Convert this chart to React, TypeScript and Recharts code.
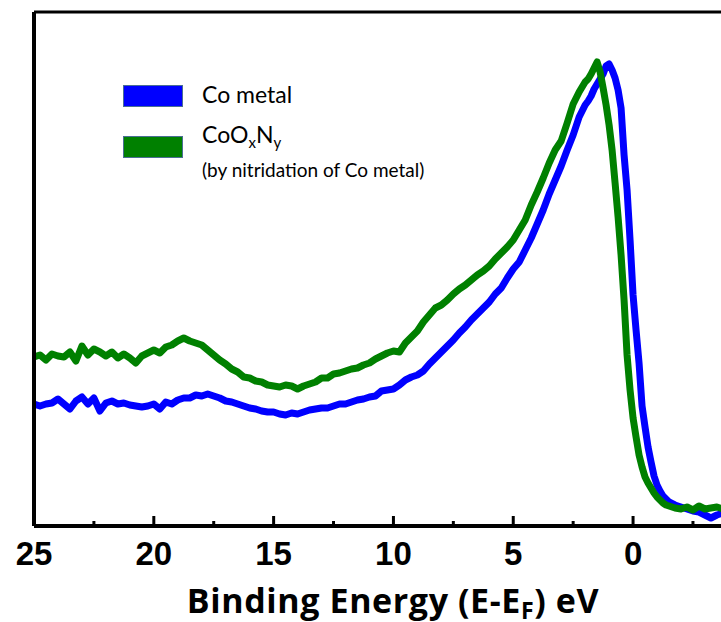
import { Line, LineChart, ReferenceLine, XAxis, YAxis } from "recharts";

// binding energy grid (eV)
const energy = [
  25, 24.75, 24.5, 24.25, 24, 23.75, 23.5, 23.25, 23, 22.75, 22.5, 22.25, 22, 21.75, 21.5, 21.25,
  21, 20.75, 20.5, 20.25, 20, 19.75, 19.5, 19.25, 19, 18.75, 18.5, 18.25, 18, 17.75, 17.5, 17.25,
  17, 16.75, 16.5, 16.25, 16, 15.75, 15.5, 15.25, 15, 14.75, 14.5, 14.25, 14, 13.75, 13.5, 13.25,
  13, 12.75, 12.5, 12.25, 12, 11.75, 11.5, 11.25, 11, 10.75, 10.5, 10.25, 10, 9.75, 9.5, 9.25,
  9, 8.75, 8.5, 8.25, 8, 7.75, 7.5, 7.25, 7, 6.75, 6.5, 6.25, 6, 5.75, 5.5, 5.25,
  5, 4.75, 4.5, 4.25, 4, 3.75, 3.5, 3.25, 3, 2.75, 2.5, 2.25,
  2, 1.875, 1.75, 1.625, 1.5, 1.375, 1.25, 1.125, 1, 0.875, 0.75, 0.625, 0.5, 0.375, 0.25, 0.125,
  0, -0.125, -0.25, -0.375, -0.5, -0.625, -0.75, -0.875, -1, -1.125, -1.25, -1.375, -1.5,
  -1.75, -2, -2.25, -2.5, -2.75, -3, -3.25, -3.5, -3.75,
];

// Co metal intensity (a.u.)
const coMetal = [
  122, 120, 122, 123, 127, 122, 117, 125, 129, 122, 128, 115, 123, 125, 122, 123,
  121, 120, 119, 120, 122, 117, 124, 122, 126, 128, 128, 131, 130, 132, 130, 128,
  125, 124, 122, 120, 118, 117, 115, 114, 114, 112, 111, 113, 112, 114, 116, 117,
  118, 118, 120, 122, 122, 124, 126, 127, 129, 130, 135, 136, 137, 141, 146, 149,
  151, 155, 162, 168, 174, 180, 186, 193, 199, 206, 212, 218, 224, 232, 238, 248,
  257, 264, 276, 288, 302, 316, 332, 346, 360, 376, 391, 409,
  421, 425, 430, 437, 442, 447, 452, 460, 462, 456, 448, 436, 418, 371, 336, 286,
  231, 196, 163, 120, 99, 79, 64, 50, 41, 35, 30, 27, 24,
  21, 19, 17, 15, 14, 11, 8, 11, 13,
];

// CoOxNy intensity (a.u.)
const coOxNy = [
  169, 171, 166, 172, 170, 169, 174, 165, 180, 171, 177, 174, 170, 174, 168, 172,
  168, 163, 170, 173, 176, 173, 179, 181, 185, 188, 185, 183, 181, 176, 171, 166,
  162, 157, 154, 149, 148, 145, 144, 141, 140, 139, 141, 140, 137, 140, 142, 144,
  148, 148, 152, 153, 155, 157, 158, 161, 163, 167, 170, 173, 175, 174, 183, 189,
  195, 204, 211, 218, 221, 226, 232, 237, 241, 246, 251, 255, 260, 267, 273, 279,
  286, 296, 306, 321, 334, 348, 363, 376, 385, 403, 422, 434,
  444, 447, 452, 458, 464, 454, 438, 421, 401, 376, 343, 309, 271, 226, 171, 136,
  108, 89, 71, 59, 49, 43, 38, 33, 29, 26, 23, 21, 20,
  18, 17, 19, 16, 20, 17, 18, 19, 17,
];

const energyTicks = [25, 22.5, 20, 17.5, 15, 12.5, 10, 7.5, 5, 2.5, 0, -2.5];

const rows = energy.map((e, i) => ({ e, co: coMetal[i], coon: coOxNy[i] }));

const BLUE = "#0000ff";
const GREEN = "#008000";
const SANS = "Lato, 'Open Sans', sans-serif";

function EnergyTick(props: any) {
  const { x, y, payload } = props;
  const v = payload.value as number;
  const major = Math.abs(v % 5) < 1e-6;
  return (
    <g>
      <line x1={x} x2={x} y1={y} y2={y - (major ? 10 : 5)} stroke="#000" strokeWidth={3} />
      {major && (
        <text
          x={x}
          y={y + 39}
          textAnchor="middle"
          fontFamily="'Liberation Sans', Arial, sans-serif"
          fontWeight="bold"
          fontSize={33}
          fill="#000"
        >
          {v}
        </text>
      )}
    </g>
  );
}

function AxisTitle() {
  return (
    <text
      x={393}
      y={613}
      textAnchor="middle"
      fontFamily="'Open Sans', Lato, sans-serif"
      fontWeight="bold"
      fontSize={34}
      letterSpacing={0.6}
      fill="#000"
    >
      Binding Energy (E-E<tspan fontSize={23} dy={6}>F</tspan>
      <tspan dy={-6}>) eV</tspan>
    </text>
  );
}

function LegendBox() {
  return (
    <svg width={721} height={622} style={{ position: "absolute", left: 0, top: 0, pointerEvents: "none" }}>
      <rect x={123.5} y={85.5} width={59} height={21} fill={BLUE} stroke="#4a6e94" strokeWidth={1} />
      <text x={202} y={103} fontFamily={SANS} fontSize={23} fill="#000">
        Co metal
      </text>
      <rect x={123.5} y={136.5} width={59} height={21} fill={GREEN} stroke="#4a6e94" strokeWidth={1} />
      <text x={202} y={143} fontFamily={SANS} fontSize={23} fill="#000">
        CoO<tspan fontSize={15} dy={5}>x</tspan>
        <tspan dy={-5}>N</tspan>
        <tspan fontSize={15} dy={5}>y</tspan>
      </text>
      <text x={202} y={177} fontFamily={SANS} fontSize={19} fill="#000">
        (by nitridation of Co metal)
      </text>
    </svg>
  );
}

export default function App() {
  return (
    <div style={{ position: "absolute", left: 0, top: 0, width: 721, height: 622, background: "#fff" }}>
      <LineChart width={721} height={622} data={rows} margin={{ top: 12, right: 0, bottom: 95, left: 33 }}>
        <XAxis
          dataKey="e"
          type="number"
          domain={[-3.67, 25]}
          reversed
          allowDataOverflow
          ticks={energyTicks}
          interval={0}
          tickSize={0}
          tickMargin={0}
          tickLine={false}
          tick={<EnergyTick />}
          height={1}
          axisLine={{ stroke: "#000", strokeWidth: 4 }}
          label={{ content: () => <AxisTitle /> }}
        />
        <YAxis
          type="number"
          domain={[0, 514]}
          allowDataOverflow
          tick={false}
          tickLine={false}
          width={1}
          axisLine={{ stroke: "#000", strokeWidth: 4 }}
        />
        <ReferenceLine y={514} stroke="#000" strokeWidth={3} />
        <Line
          type="linear"
          dataKey="co"
          stroke={BLUE}
          strokeWidth={7}
          strokeLinejoin="round"
          strokeLinecap="round"
          dot={false}
          isAnimationActive={false}
        />
        <Line
          type="linear"
          dataKey="coon"
          stroke={GREEN}
          strokeWidth={7}
          strokeLinejoin="round"
          strokeLinecap="round"
          dot={false}
          isAnimationActive={false}
        />
      </LineChart>
      <LegendBox />
    </div>
  );
}
